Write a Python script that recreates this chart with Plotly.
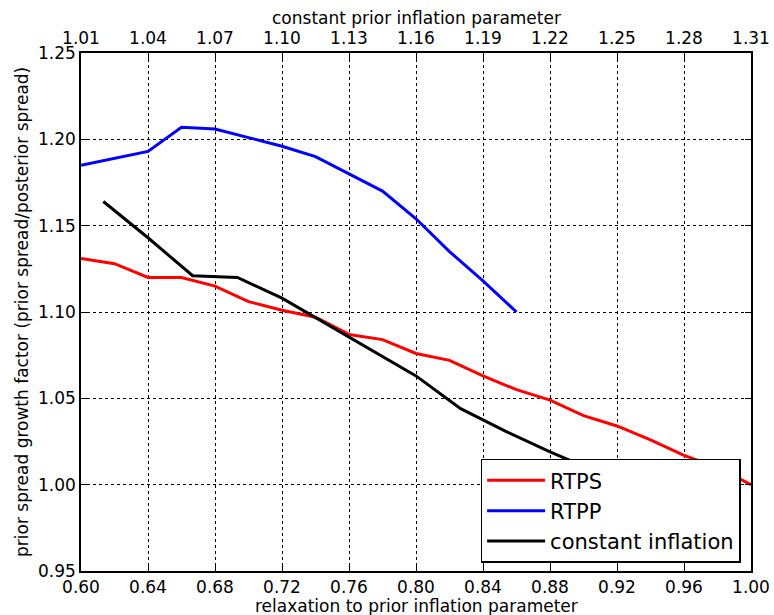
import plotly.graph_objects as go

# bottom axis: relaxation parameter
relax_x = [0.60, 0.62, 0.64, 0.66, 0.68, 0.70, 0.72, 0.74, 0.76, 0.78, 0.80,
           0.82, 0.84, 0.86, 0.88, 0.90, 0.92, 0.94, 0.96, 0.98, 1.00]
rtps = [1.131, 1.128, 1.120, 1.120, 1.115, 1.106, 1.101, 1.097, 1.087, 1.084, 1.076,
        1.072, 1.063, 1.055, 1.049, 1.040, 1.034, 1.026, 1.017, 1.010, 1.000]

rtpp_x = [0.60, 0.62, 0.64, 0.66, 0.68, 0.70, 0.72, 0.74, 0.76, 0.78, 0.80,
          0.82, 0.84, 0.86]
rtpp = [1.185, 1.189, 1.193, 1.207, 1.206, 1.201, 1.196, 1.190, 1.180, 1.170, 1.154,
        1.135, 1.118, 1.100]

# top axis: constant inflation parameter
const_x = [1.02, 1.04, 1.06, 1.08, 1.10, 1.12, 1.14, 1.16, 1.18, 1.20, 1.22,
           1.24, 1.26, 1.28, 1.30]
const_inf = [1.164, 1.143, 1.121, 1.120, 1.108, 1.093, 1.078, 1.063, 1.044, 1.031,
             1.019, 1.008, 0.996, 0.987, 0.976]

bottom_ticks = [0.60, 0.64, 0.68, 0.72, 0.76, 0.80, 0.84, 0.88, 0.92, 0.96, 1.00]
top_ticks = [1.01, 1.04, 1.07, 1.10, 1.13, 1.16, 1.19, 1.22, 1.25, 1.28, 1.31]
y_ticks = [0.95, 1.00, 1.05, 1.10, 1.15, 1.20, 1.25]

FONT = "DejaVu Sans"
fig = go.Figure()
fig.add_trace(go.Scatter(x=relax_x, y=rtps, mode="lines", name="RTPS",
                         line=dict(color="#ff0000", width=3)))
fig.add_trace(go.Scatter(x=rtpp_x, y=rtpp, mode="lines", name="RTPP",
                         line=dict(color="#0000ff", width=3)))
fig.add_trace(go.Scatter(x=const_x, y=const_inf, mode="lines", name="constant inflation",
                         line=dict(color="#000000", width=3), xaxis="x2"))

axis_common = dict(showline=True, linecolor="black", linewidth=1.5, automargin=False,
                   ticks="inside", ticklen=6, tickcolor="black", tickwidth=1,
                   tickfont=dict(family=FONT, size=17, color="black"), zeroline=False)

fig.update_layout(
    width=774, height=615,
    margin=dict(l=81, r=23, t=53, b=44, autoexpand=False),
    paper_bgcolor="white", plot_bgcolor="white",
    font=dict(family=FONT, color="black"),
    xaxis=dict(range=[0.60, 1.00], tickvals=bottom_ticks,
               ticktext=[f"{v:.2f}" for v in bottom_ticks], mirror="ticks",
               showgrid=True, gridcolor="black", griddash="dot", gridwidth=1,
               **axis_common),
    xaxis2=dict(range=[1.01, 1.31], tickvals=top_ticks,
                ticktext=[f"{v:.2f}" for v in top_ticks], overlaying="x", side="top",
                showgrid=False, **axis_common),
    yaxis=dict(range=[0.95, 1.25], tickvals=y_ticks,
               ticktext=[f"{v:.2f}" for v in y_ticks], mirror="ticks",
               showgrid=True, gridcolor="black", griddash="dot", gridwidth=1,
               **axis_common),
    legend=dict(x=0.9845, y=0.016, xanchor="right", yanchor="bottom",
                bgcolor="white", bordercolor="black", borderwidth=1.5,
                itemwidth=58,
                font=dict(family=FONT, size=21, color="black")),
    showlegend=True,
)

fig.add_annotation(text="relaxation to prior inflation parameter", xref="paper", yref="paper",
                   x=0.5, y=0, yshift=-35, yanchor="middle", showarrow=False,
                   font=dict(family=FONT, size=17, color="black"))
fig.add_annotation(text="constant prior inflation parameter", xref="paper", yref="paper",
                   x=0.5, y=1, yshift=35, yanchor="middle", showarrow=False,
                   font=dict(family=FONT, size=17, color="black"))
fig.add_annotation(text="prior spread growth factor (prior spread/posterior spread)",
                   xref="paper", yref="paper", x=0, y=0.5, xshift=-59, textangle=-90,
                   xanchor="center", yanchor="middle",
                   showarrow=False, font=dict(family=FONT, size=17, color="black"))

fig.write_html("out.html")
